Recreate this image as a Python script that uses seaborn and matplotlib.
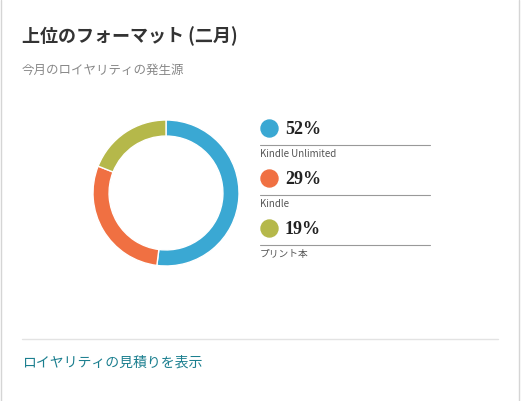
import matplotlib
matplotlib.use("Agg")
import seaborn as sns
from matplotlib import pyplot as plt

sns.set_theme(style="white")
plt.rcParams["font.family"] = ["Noto Sans CJK JP", "DejaVu Sans"]

formats = ["Kindle Unlimited", "Kindle", "プリント本"]
shares = [52, 29, 19]
colors = ["#3aa8d3", "#f07042", "#b5b84a"]
title = "上位のフォーマット (二月)"
subtitle = "今月のロイヤリティの発生源"
link_text = "ロイヤリティの見積りを表示"

W, H = 521, 401
fig = plt.figure(figsize=(W / 100, H / 100), dpi=100)

# full-figure overlay in pixel coordinates
bg = fig.add_axes([0, 0, 1, 1])
bg.set_xlim(0, W)
bg.set_ylim(H, 0)
bg.axis("off")

bg.plot([0.5, 0.5], [0, H], color="#d5d5d5", lw=1)
bg.plot([519, 519], [0, H], color="#d5d5d5", lw=1)
bg.text(22, 36, title, fontsize=13, fontweight="bold", color="#333333", va="center")
bg.text(22, 70, subtitle, fontsize=9, color="#888888", va="center")
bg.plot([22, 498], [339, 339], color="#e3e3e3", lw=1)
bg.text(22, 363, link_text, fontsize=10, color="#1b7f8f", va="center")

# legend
for i, (name, val, c) in enumerate(zip(formats, shares, colors)):
    y = 128 + i * 50
    bg.scatter([269], [y], s=150, color=c, zorder=3)
    bg.text(285, y + 2, f"{val}%", fontsize=13, fontweight="bold",
            family="Liberation Serif", color="#222222", va="center")
    bg.plot([260, 430], [y + 17, y + 17], color="#999999", lw=0.8)
    bg.text(260, y + 26, name, fontsize=7, color="#555555", va="center")

# donut
pie_ax = fig.add_axes([93 / W, (H - 266) / H, 146 / W, 146 / H])
pie_ax.pie(shares, colors=colors, startangle=90, counterclock=False,
           radius=1, wedgeprops=dict(width=0.22, edgecolor="white", linewidth=1))
pie_ax.set_xlim(-1, 1)
pie_ax.set_ylim(-1, 1)
pie_ax.set_aspect("equal")

fig.savefig("out.png", dpi=100)
